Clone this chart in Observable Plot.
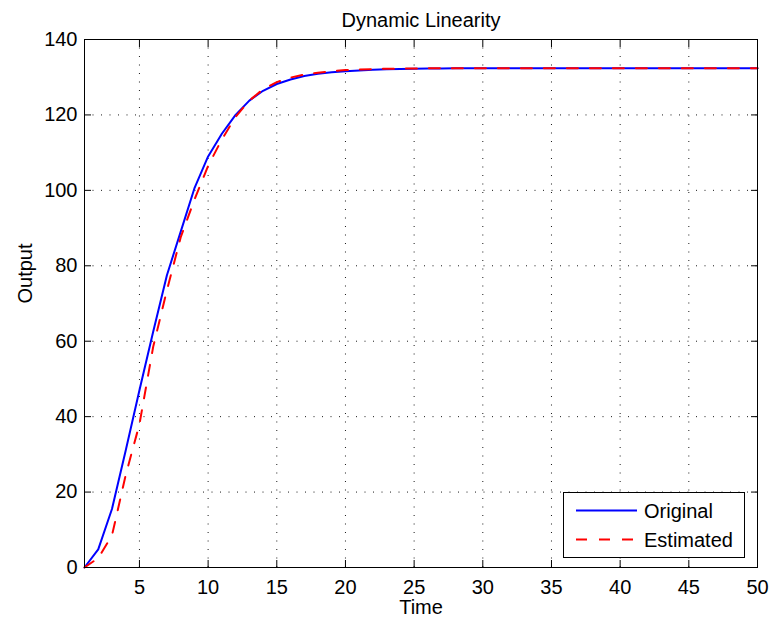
<!DOCTYPE html>
<html><head><meta charset="utf-8">
<script src="https://cdn.jsdelivr.net/npm/d3@7"></script>
<script src="https://cdn.jsdelivr.net/npm/@observablehq/plot@0.6"></script>
<style>
html,body{margin:0;padding:0;background:#fff;}
#wrap{position:relative;width:771px;height:626px;font-family:"Liberation Sans",Arial,Helvetica,sans-serif;}
#legend{position:absolute;left:563px;top:492px;}
</style></head><body><div id="wrap"></div>
<script>
const time = [1,2,3,4,5,6,7,8,9,10,11,12,13,14,15,16,17,18,19,20,21,22,23,24,25,26,27,28,29,30,31,32,33,34,35,36,37,38,39,40,41,42,43,44,45,46,47,48,49,50];
const original = [0,4.8,15.5,31,47,62.5,77.5,89,100.5,109,115,120,123.8,126.4,128.2,129.4,130.3,130.9,131.3,131.6,131.8,132.0,132.1,132.2,132.25,132.3,132.3,132.35,132.35,132.35,132.4,132.4,132.4,132.4,132.4,132.4,132.4,132.4,132.4,132.4,132.4,132.4,132.4,132.4,132.4,132.4,132.4,132.4,132.4,132.4];
const estimated = [0,2.5,8.5,24.5,38,58.5,73.5,87.5,97.5,106.5,113.5,119.5,123.8,126.8,128.7,129.9,130.7,131.2,131.6,131.9,132.05,132.15,132.25,132.3,132.3,132.35,132.35,132.35,132.4,132.4,132.4,132.4,132.4,132.4,132.4,132.4,132.4,132.4,132.4,132.4,132.4,132.4,132.4,132.4,132.4,132.4,132.4,132.4,132.4,132.4];
const xTicks = [5,10,15,20,25,30,35,40,45,50];
const yTicks = [0,20,40,60,80,100,120,140];
const seriesNames = ["Original","Estimated"];
const seriesColors = ["#0000ff","#ff0000"];
const titleText = "Dynamic Linearity";
const xLabel = "Time";
const yLabel = "Output";

const rows = time.map((t,i)=>({t, original: original[i], estimated: estimated[i]}));
const FS = 20;

const chart = Plot.plot({
  width: 771, height: 626,
  marginLeft: 84, marginRight: 14, marginTop: 39, marginBottom: 59,
  style: {fontFamily: '"Liberation Sans", Arial, Helvetica, sans-serif', fontSize: FS + "px", background: "#fff", color: "#000"},
  x: {domain: [1, 50]},
  y: {domain: [0, 140]},
  marks: [
    Plot.gridX(xTicks, {stroke: "#000", strokeOpacity: 0.9, strokeWidth: 1, strokeDasharray: "1,7.5"}),
    Plot.gridY(yTicks, {stroke: "#000", strokeOpacity: 0.9, strokeWidth: 1, strokeDasharray: "1,7.5"}),
    Plot.axisX(xTicks, {anchor: "bottom", tickSize: -7, fill: "none", label: null}),
    Plot.axisX(xTicks, {anchor: "top", tickSize: -7, fill: "none", label: null}),
    Plot.axisY(yTicks, {anchor: "left", tickSize: -7, fill: "none", label: null}),
    Plot.axisY(yTicks, {anchor: "right", tickSize: -7, fill: "none", label: null}),
    Plot.axisX(xTicks, {anchor: "bottom", tickSize: 0, tickPadding: 12, stroke: "none", label: null, fontSize: FS}),
    Plot.axisY(yTicks, {anchor: "left", tickSize: 0, tickPadding: 7, stroke: "none", label: null, fontSize: FS}),
    Plot.line(rows, {x: "t", y: "original", stroke: seriesColors[0], strokeWidth: 2}),
    Plot.line(rows, {x: "t", y: "estimated", stroke: seriesColors[1], strokeWidth: 2, strokeDasharray: "11,12"}),
    Plot.frame({stroke: "#000", strokeWidth: 1}),
    Plot.text([titleText], {text: d => d, frameAnchor: "top", dy: -19, fontSize: FS, lineAnchor: "middle"}),
    Plot.text([xLabel], {text: d => d, frameAnchor: "bottom", dy: 40, fontSize: FS, lineAnchor: "middle"}),
    Plot.text([yLabel], {text: d => d, frameAnchor: "left", dx: -59, rotate: -90, fontSize: FS, lineAnchor: "middle"})
  ]
});
const wrap = document.getElementById("wrap");
wrap.appendChild(chart);

// legend
const lg = d3.select(wrap).append("div").attr("id", "legend")
  .append("svg").attr("width", 182).attr("height", 66);
lg.append("rect").attr("x", 0.5).attr("y", 0.5).attr("width", 181).attr("height", 65)
  .attr("fill", "#fff").attr("stroke", "#000");
seriesNames.forEach((name, i) => {
  const yy = 18.5 + i * 29;
  lg.append("line").attr("x1", 13).attr("x2", 74).attr("y1", yy).attr("y2", yy)
    .attr("stroke", seriesColors[i]).attr("stroke-width", 2)
    .attr("stroke-dasharray", i === 1 ? "11,12" : null);
  lg.append("text").attr("x", 81).attr("y", yy).attr("dy", "0.35em")
    .attr("font-size", FS).attr("font-family", '"Liberation Sans", Arial, sans-serif')
    .text(name);
});
</script></body></html>
